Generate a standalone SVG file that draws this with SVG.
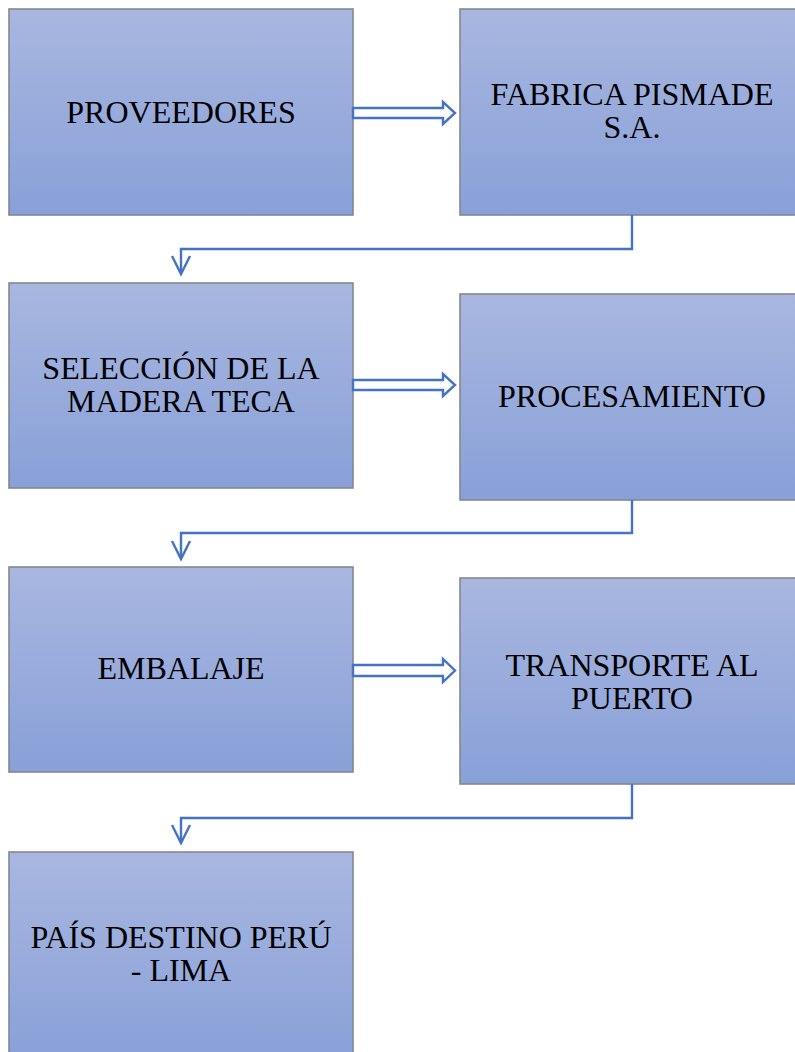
<svg xmlns="http://www.w3.org/2000/svg" width="795" height="1052" viewBox="0 0 795 1052">
<style>
.box{fill:url(#g);stroke:#85878f;stroke-width:1.6}
.lbl{font-family:"Liberation Serif","Times New Roman",serif;font-size:32px;fill:#000;text-anchor:middle}
.conn{fill:none;stroke:#4472C4;stroke-width:2.4}
.blk{fill:#fff;stroke:#4472C4;stroke-width:2.4;stroke-linejoin:miter}
</style>
<defs>
<linearGradient id="g" x1="0" y1="0" x2="0" y2="1">
<stop offset="0" stop-color="#A9B7E0"/>
<stop offset="1" stop-color="#88A0D8"/>
</linearGradient>
</defs>
<rect width="795" height="1052" fill="#fff"/>
<g id="n1"><rect class="box" x="9" y="9" width="344" height="206"/><text class="lbl" x="181" y="123">PROVEEDORES</text></g>
<g id="n2"><rect class="box" x="460" y="9" width="344" height="206"/><text class="lbl" x="632" y="105">FABRICA PISMADE</text><text class="lbl" x="632" y="138">S.A.</text></g>
<g id="n3"><rect class="box" x="9" y="283" width="344" height="205"/><text class="lbl" x="181" y="379">SELECCIÓN DE LA</text><text class="lbl" x="181" y="412">MADERA TECA</text></g>
<g id="n4"><rect class="box" x="460" y="294" width="344" height="206"/><text class="lbl" x="632" y="407">PROCESAMIENTO</text></g>
<g id="n5"><rect class="box" x="9" y="567" width="344" height="205"/><text class="lbl" x="181" y="679">EMBALAJE</text></g>
<g id="n6"><rect class="box" x="460" y="578" width="344" height="206"/><text class="lbl" x="632" y="676">TRANSPORTE AL</text><text class="lbl" x="632" y="709">PUERTO</text></g>
<g id="n7"><rect class="box" x="9" y="852" width="344" height="210"/><text class="lbl" x="181" y="948">PAÍS DESTINO PERÚ</text><text class="lbl" x="181" y="981">- LIMA</text></g>
<g id="connectors">
<path class="blk" d="M353,108 H443 V102 L455,113 L443,124 V118 H353 Z"/>
<path class="blk" d="M353,380 H443 V374 L455,385 L443,396 V390 H353 Z"/>
<path class="blk" d="M353,665 H443 V659 L455,670.5 L443,682 V676 H353 Z"/>
<path class="conn" d="M632,215 V249 H181 V273"/>
<path class="conn" d="M172,256 L181,274 L190,256"/>
<path class="conn" d="M632,500 V533 H181 V558"/>
<path class="conn" d="M172,541 L181,559 L190,541"/>
<path class="conn" d="M632,784 V818 H181 V842"/>
<path class="conn" d="M172,825 L181,843 L190,825"/>
</g>
</svg>
